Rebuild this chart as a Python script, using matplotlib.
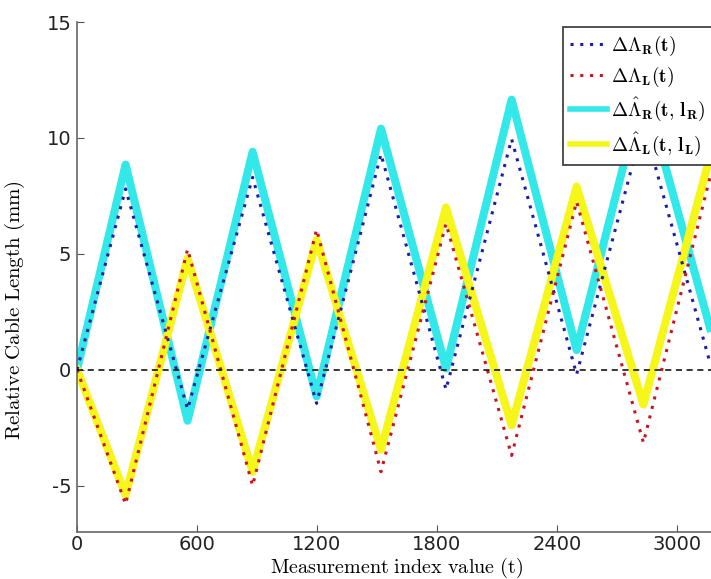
import matplotlib
matplotlib.use('Agg')
import matplotlib.pyplot as plt
import numpy as np

plt.rcParams['mathtext.fontset'] = 'cm'
plt.rcParams['axes.unicode_minus'] = False

# vertices of the triangle-shaped signals
t_idx = [0, 243, 553, 878, 1198, 1520, 1845, 2173, 2498, 2832, 3165]
lam_r = [0, 7.8, -1.7, 8.3, -1.45, 9.3, -0.85, 9.95, -0.2, 10.6, 0.3]
lam_l = [0, -5.8, 5.2, -5.0, 6.05, -4.4, 6.3, -3.7, 7.25, -3.15, 8.3]
lam_r_hat = [0, 8.85, -2.2, 9.4, -1.15, 10.4, 0.05, 11.65, 0.85, 12.2, 1.8]
lam_l_hat = [0, -5.4, 4.8, -4.4, 5.6, -3.45, 7.0, -2.4, 7.9, -1.5, 9.2]

x_ticks = [0, 600, 1200, 1800, 2400, 3000]
y_ticks = [-5, 0, 5, 10, 15]

fig = plt.figure(figsize=(7.11, 5.79), dpi=100)
ax = fig.add_axes([77 / 711, 47 / 579, 640 / 711, 510 / 579])

# thick estimated curves below, dotted measured curves on top
h3, = ax.plot(t_idx, lam_r_hat, color='#33e8e8', lw=5.8, zorder=2,
              solid_joinstyle='round')
h4, = ax.plot(t_idx, lam_l_hat, color='#f6f61a', lw=5.8, zorder=2,
              solid_joinstyle='round')
h1, = ax.plot(t_idx, lam_r, color='#1c1ca6', lw=2.2, ls=(0, (1, 2.2)), zorder=3)
h2, = ax.plot(t_idx, lam_l, color='#c8141e', lw=2.2, ls=(0, (1, 2.2)), zorder=3)
ax.axhline(0, color='black', lw=1.1, ls=(0, (4, 3)), zorder=4)

ax.set_xlim(0, 3200)
ax.set_ylim(-7, 15)
ax.set_xticks(x_ticks)
ax.set_yticks(y_ticks)
ax.tick_params(direction='in', length=5, labelsize=14, color='#555555',
               labelcolor='#222222', pad=4)
ax.tick_params(axis='x', pad=2.5)
for s in ['top', 'right']:
    ax.spines[s].set_visible(False)
for s in ['left', 'bottom']:
    ax.spines[s].set_color('#666666')
    ax.spines[s].set_linewidth(1.2)

ax.set_xlabel(r'$\mathrm{Measurement\ index\ value\ (t)}$', fontsize=14.5)
ax.set_ylabel(r'$\mathrm{Relative\ Cable\ Length\ (mm)}$', fontsize=15)
ax.xaxis.set_label_coords(0.5, -0.047)
ax.yaxis.set_label_coords(-0.078, 0.435)

labels = [r'$\mathbf{\Delta\Lambda_R(t)}$',
          r'$\mathbf{\Delta\Lambda_L(t)}$',
          r'$\mathbf{\Delta\hat{\Lambda}_R(t,\,l_R)}$',
          r'$\mathbf{\Delta\hat{\Lambda}_L(t,\,l_L)}$']
leg = ax.legend([h1, h2, h3, h4], labels, loc='upper left',
                bbox_to_anchor=(563 / 711, 1 - 27 / 579),
                bbox_transform=fig.transFigure, borderaxespad=0,
                fontsize=14, handlelength=1.9, handletextpad=0.2,
                labelspacing=0.35, borderpad=0.35, fancybox=False,
                framealpha=1)
leg.get_frame().set_edgecolor('#333333')
leg.get_frame().set_linewidth(1.2)
for lh in leg.get_lines()[2:]:
    lh.set_linewidth(4)

fig.savefig('out.png', dpi=100)
